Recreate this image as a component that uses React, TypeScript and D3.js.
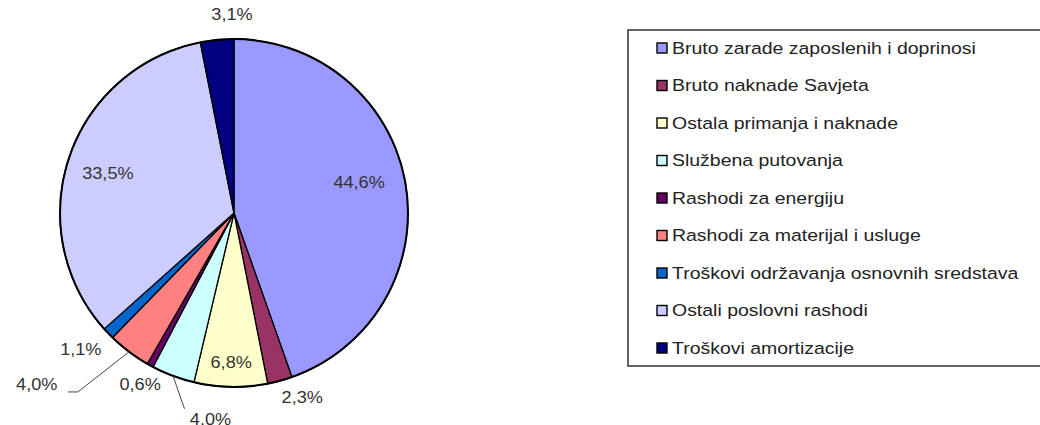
import React from "react";
import * as d3 from "d3";

const categories = [
  "Bruto zarade zaposlenih i doprinosi",
  "Bruto naknade Savjeta",
  "Ostala primanja i naknade",
  "Službena putovanja",
  "Rashodi za energiju",
  "Rashodi za materijal i usluge",
  "Troškovi održavanja osnovnih sredstava",
  "Ostali poslovni rashodi",
  "Troškovi amortizacije",
];
const values = [44.6, 2.3, 6.8, 4.0, 0.6, 4.0, 1.1, 33.5, 3.1];
const colors = ["#9999FF", "#993366", "#FFFFCC", "#CCFFFF", "#660066", "#FF8080", "#0066CC", "#CCCCFF", "#000080"];

// label placement: [radius factor, angle shift in degrees]
const labelPlace: [number, number][] = [
  [0.74, -4], [1.13, -5], [0.86, 0], [1.19, -14], [1.12, 0], [1.5, 12], [1.18, 2], [0.76, -1], [1.14, 5],
];
const leaderIdx = [3, 5];

const W = 1040, H = 425;
const cx = 234, cy = 213, R = 174;

function polar(r: number, a: number): [number, number] {
  return [cx + r * Math.sin(a), cy - r * Math.cos(a)];
}

export default function App() {
  const pie = d3.pie<number>().sort(null).value((d) => d);
  const arcs = pie(values);
  const arc = d3.arc<d3.PieArcDatum<number>>().innerRadius(0).outerRadius(R);
  const fmt = (v: number) => v.toFixed(1).replace(".", ",") + "%";

  const legendX = 628, legendY = 30, rowH = 37.5;

  return (
    <svg width={W} height={H} style={{ position: "absolute", left: 0, top: 0, background: "#fff" }}
      fontFamily="'Liberation Sans', Arial, sans-serif">
      <g transform={`translate(${cx},${cy})`}>
        {arcs.map((a, i) => (
          <path key={i} d={arc(a) || ""} fill={colors[i]} stroke="#000" strokeWidth={1.3} strokeLinejoin="round" />
        ))}
        <circle r={R} fill="none" stroke="#000" strokeWidth={2} />
      </g>
      {arcs.map((a, i) => {
        const mid = (a.startAngle + a.endAngle) / 2;
        const [f, shift] = labelPlace[i];
        const [x, y] = polar(R * f, mid + (shift * Math.PI) / 180);
        return (
          <text key={i} x={0} y={0} transform={`translate(${x},${y}) scale(1.1,1)`} dy="0.35em"
            textAnchor="middle" fontSize={16.5} fill="#333">
            {fmt(values[i])}
          </text>
        );
      })}
      {leaderIdx.map((i) => {
        const a = arcs[i];
        const mid = (a.startAngle + a.endAngle) / 2;
        const [sx, sy] = polar(R, mid);
        const [f, shift] = labelPlace[i];
        const [lx, ly] = polar(R * f, mid + (shift * Math.PI) / 180);
        const pts =
          i === 3
            ? [[sx, sy], [lx - 26, ly - 10]]
            : [[sx, sy], [lx + 41, ly + 8], [lx + 31, ly + 8]];
        return (
          <polyline key={i} points={pts.map((p) => p.join(",")).join(" ")} fill="none" stroke="#444" strokeWidth={1} />
        );
      })}
      <rect x={legendX} y={legendY} width={430} height={336} fill="#fff" stroke="#555" strokeWidth={1.8} />
      {categories.map((c, i) => {
        const y = legendY + 18 + i * rowH;
        return (
          <g key={i}>
            <rect x={657} y={y - 5} width={10} height={10} fill={colors[i]} stroke="#000" strokeWidth={1.4} />
            <text x={0} y={0} transform={`translate(672,${y}) scale(1.18,1)`} dy="0.35em" fontSize={16.5} fill="#222">
              {c}
            </text>
          </g>
        );
      })}
    </svg>
  );
}
